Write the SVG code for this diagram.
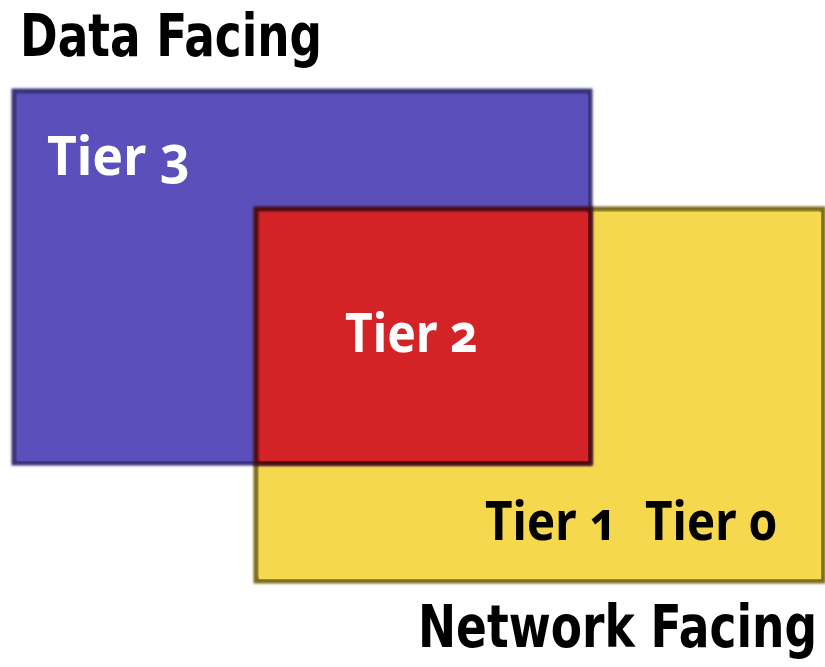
<svg xmlns="http://www.w3.org/2000/svg" width="825" height="667" viewBox="0 0 825 667">
  <style>
    .lbl { font-family: "Noto Sans", "Open Sans", sans-serif; font-weight: bold; font-variant-numeric: oldstyle-nums; font-feature-settings: "onum" 1; }
    .title { font-family: "DejaVu Sans Condensed", "DejaVu Sans", sans-serif; font-weight: bold; font-size: 58px; fill: #000; }
    .tier { font-size: 54px; }
    .w { fill: #fff; }
    .k { fill: #000; }
  </style>
  <defs>
    <filter id="shade" x="-5%" y="-5%" width="110%" height="110%">
      <feGaussianBlur stdDeviation="1"/>
    </filter>
  </defs>
  <rect width="825" height="667" fill="#fff"/>

  <text class="title" x="20" y="56" textLength="302" lengthAdjust="spacingAndGlyphs">Data Facing</text>

  <g id="tier0">
    <rect x="256" y="209" width="567" height="372" fill="#f6d64d" stroke="#7a6a1c" stroke-width="5" filter="url(#shade)"/>
    <rect x="259" y="212" width="562" height="367" fill="#f6d84e"/>
  </g>

  <g id="tier3">
    <rect x="14" y="91" width="576" height="372" fill="#5a4fb8" stroke="#3a3078" stroke-width="5" filter="url(#shade)"/>
    <rect x="17" y="95" width="571" height="366" fill="#5a4fbb"/>
    <text class="lbl tier w" x="47" y="175" textLength="143" lengthAdjust="spacingAndGlyphs">Tier 3</text>
  </g>

  <g id="tier2">
    <rect x="256" y="209" width="334" height="254" fill="#d42326" stroke="#4a0a0a" stroke-width="5" filter="url(#shade)"/>
    <rect x="260" y="213" width="328" height="248" fill="#d42326"/>
    <text class="lbl tier w" x="345" y="352" textLength="133" lengthAdjust="spacingAndGlyphs">Tier 2</text>
  </g>

  <g id="labels">
    <text class="lbl tier k" x="485" y="540" textLength="132" lengthAdjust="spacingAndGlyphs">Tier 1</text>
    <text class="lbl tier k" x="645" y="540" textLength="132" lengthAdjust="spacingAndGlyphs">Tier 0</text>
  </g>

  <g id="connectors"/>

  <text class="title" x="817" y="647" font-size="50" text-anchor="end" textLength="399" lengthAdjust="spacingAndGlyphs">Network Facing</text>
</svg>
